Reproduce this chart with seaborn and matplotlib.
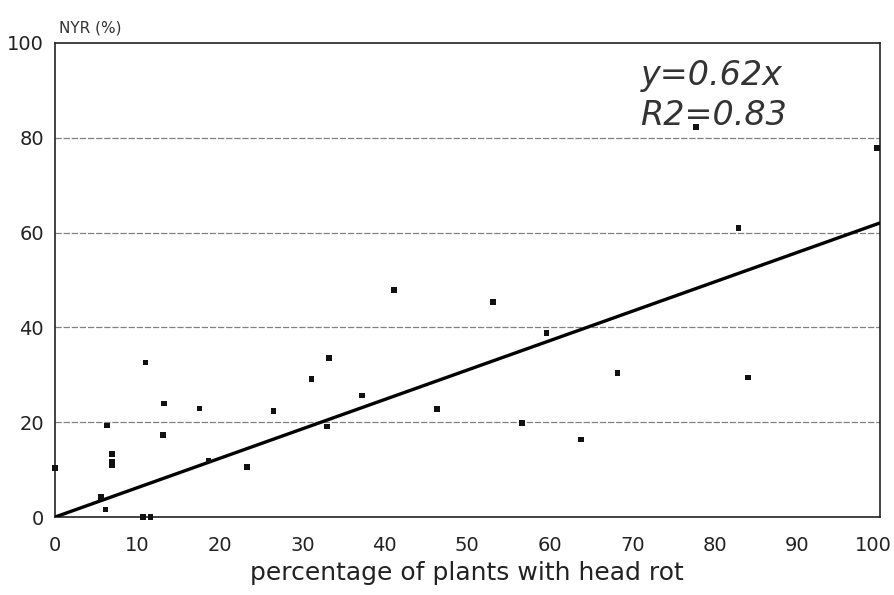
import numpy as np
import pandas as pd
import matplotlib
matplotlib.use("Agg")
import matplotlib.pyplot as plt
import matplotlib.transforms as mtrans
import seaborn as sns

# head rot (%) vs NYR (%)
head_rot = [0.0, 5.6, 6.1, 6.3, 6.9, 6.9, 6.9, 10.7, 11.6, 11.0, 13.2, 13.1,
            17.5, 18.6, 23.3, 26.5, 31.1, 33.2, 33.0, 37.2, 41.1, 46.3, 53.1,
            56.6, 59.6, 63.8, 68.2, 77.7, 82.9, 84.0, 99.7]
nyr = [10.3, 4.2, 1.6, 19.3, 13.3, 11.6, 10.9, 0.0, 0.0, 32.6, 23.9, 17.3,
       22.9, 11.9, 10.5, 22.4, 29.1, 33.5, 19.1, 25.6, 47.9, 22.8, 45.4,
       19.8, 38.8, 16.4, 30.4, 82.3, 61.0, 29.4, 77.8]
slope = 0.62
r2 = 0.83
x_ticks = [0, 10, 20, 30, 40, 50, 60, 70, 80, 90, 100]
y_ticks = [0, 20, 40, 60, 80, 100]

df = pd.DataFrame({"x": head_rot, "y": nyr})
fit = pd.DataFrame({"x": [0, 100]})
fit["y"] = slope * fit["x"]

sns.set_theme(style="white")
plt.rcParams["font.family"] = ["DejaVu Sans"]

fig = plt.figure(figsize=(8.94, 5.95), dpi=100)
ax = fig.add_axes([0.0615, 0.131, 0.9225, 0.797])

for v in y_ticks[1:-1]:
    ax.axhline(v, color="#808080", lw=0.9, ls=(0, (5, 1.5)), zorder=1)

sns.lineplot(data=fit, x="x", y="y", color="black", lw=2.4, ax=ax, zorder=3)
sns.scatterplot(data=df, x="x", y="y", marker="s", s=16, color="#111111",
                edgecolor="none", ax=ax, zorder=4, clip_on=False)

ax.set_xlim(0, 100)
ax.set_ylim(0, 100)
ax.set_xticks(x_ticks)
ax.set_yticks(y_ticks)
ax.tick_params(axis="x", direction="in", length=9, width=1, color="#222222",
               labelsize=14, pad=14, labelcolor="#222222")
ax.tick_params(axis="y", length=0, labelsize=14, pad=8, labelcolor="#222222")
for s in ax.spines.values():
    s.set_color("#222222")
    s.set_linewidth(1.2)

# last x label sits right at the figure edge, pull it in a little
lab = ax.get_xticklabels()[-1]
lab.set_transform(lab.get_transform() +
                  mtrans.ScaledTranslation(-6 / 100, 0, fig.dpi_scale_trans))

ax.set_xlabel("percentage of plants with head rot", fontsize=18,
              color="#222222", labelpad=4)
ax.set_ylabel("")
ax.text(0.005, 1.015, "NYR (%)", transform=ax.transAxes, fontsize=11,
        color="#333333", ha="left", va="bottom")
ax.text(0.71, 0.965, f"y={slope}x\nR2={r2}", transform=ax.transAxes,
        fontsize=24, style="italic", color="#333333", ha="left", va="top",
        linespacing=1.25)

fig.savefig("out.png", dpi=100)
